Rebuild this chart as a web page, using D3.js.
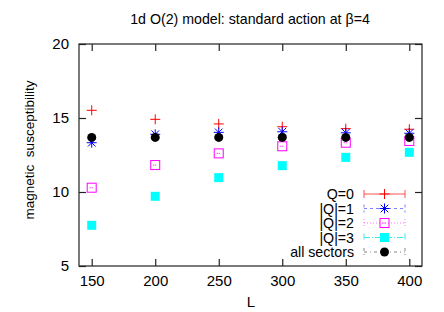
<!DOCTYPE html>
<html><head><meta charset="utf-8">
<script src="https://cdn.jsdelivr.net/npm/d3@7"></script>
<style>body{margin:0;background:#fff}svg{display:block}text{font-family:"Liberation Sans",Arial,sans-serif}</style>
</head><body>
<script>
const Ls = [150, 200, 250, 300, 350, 400];
const q0 = [15.52, 14.91, 14.6, 14.41, 14.28, 14.24];
const q1 = [13.33, 13.9, 14.03, 14.07, 14.0, 13.97];
const q2 = [10.29, 11.82, 12.61, 13.09, 13.33, 13.45];
const q3 = [7.75, 9.71, 10.97, 11.78, 12.34, 12.68];
const qall = [13.69, 13.69, 13.69, 13.69, 13.69, 13.69];
const xTicks = [150, 200, 250, 300, 350, 400];
const yTicks = [5, 10, 15, 20];
const seriesNames = ["Q=0", "|Q|=1", "|Q|=2", "|Q|=3", "all sectors"];

const W = 444, H = 312;
const m = {l: 79, r: 22, t: 44, b: 46};
const svg = d3.select("body").append("svg").attr("width", W).attr("height", H);
const x = d3.scaleLinear().domain([140, 410]).range([m.l, W - m.r]);
const y = d3.scaleLinear().domain([5, 20]).range([H - m.b, m.t]);

const ink = "#222";
svg.append("rect").attr("x", m.l).attr("y", m.t).attr("width", W - m.r - m.l).attr("height", H - m.b - m.t)
  .attr("fill", "none").attr("stroke", ink).attr("stroke-width", 1.2);

const fs = 15;
const xa = svg.append("g").attr("transform", `translate(0,${H - m.b})`)
  .call(d3.axisBottom(x).tickValues(xTicks).tickSizeInner(-7).tickSizeOuter(0).tickPadding(9));
const xt = svg.append("g").attr("transform", `translate(0,${m.t})`)
  .call(d3.axisTop(x).tickValues(xTicks).tickSizeInner(-7).tickSizeOuter(0).tickFormat(""));
const ya = svg.append("g").attr("transform", `translate(${m.l},0)`)
  .call(d3.axisLeft(y).tickValues(yTicks).tickSizeInner(-7).tickSizeOuter(0).tickPadding(10));
const yr = svg.append("g").attr("transform", `translate(${W - m.r},0)`)
  .call(d3.axisRight(y).tickValues(yTicks).tickSizeInner(-7).tickSizeOuter(0).tickFormat(""));
[xa, xt, ya, yr].forEach(g => {
  g.select(".domain").remove();
  g.selectAll("line").attr("stroke", ink).attr("stroke-width", 1.2);
  g.selectAll("text").attr("font-size", fs).attr("fill", "#000").attr("font-family", '"Liberation Sans",Arial,sans-serif');
});

svg.append("text").attr("x", 250).attr("y", 24).attr("text-anchor", "middle").attr("font-size", 14.2).text("1d O(2) model: standard action at β=4");
svg.append("text").attr("x", 251).attr("y", 307).attr("text-anchor", "middle").attr("font-size", 15).text("L");
svg.append("text").attr("transform", `translate(34,150) rotate(-90)`).attr("text-anchor", "middle")
  .attr("font-size", 13.5).attr("xml:space", "preserve").style("white-space", "pre").text("magnetic  susceptibility");

function plus(g, cx, cy, c) {
  g.append("path").attr("d", `M${cx-5},${cy}H${cx+5}M${cx},${cy-5}V${cy+5}`).attr("stroke", c).attr("stroke-width", 1).attr("fill", "none");
}
function star(g, cx, cy, c) {
  g.append("path").attr("d", `M${cx-5},${cy}H${cx+5}M${cx},${cy-5}V${cy+5}M${cx-3.8},${cy-3.8}L${cx+3.8},${cy+3.8}M${cx-3.8},${cy+3.8}L${cx+3.8},${cy-3.8}`)
    .attr("stroke", c).attr("stroke-width", 1).attr("fill", "none");
}
function osq(g, cx, cy, c) {
  g.append("rect").attr("x", cx-4.5).attr("y", cy-4.5).attr("width", 9).attr("height", 9).attr("fill", "none").attr("stroke", c).attr("stroke-width", 1);
  g.append("path").attr("d", `M${cx-2},${cy}H${cx+2}`).attr("stroke", c).attr("stroke-width", 1).attr("stroke-dasharray", "1,1");
}
function fsq(g, cx, cy, c) {
  g.append("rect").attr("x", cx-4.5).attr("y", cy-4.5).attr("width", 9).attr("height", 9).attr("fill", c);
}
function fcirc(g, cx, cy, c) {
  g.append("circle").attr("cx", cx).attr("cy", cy).attr("r", 4.5).attr("fill", c);
}

const series = [
  {v: q0, c: "#ff0000", lc: "#ff5050", m: plus, dash: null},
  {v: q1, c: "#0000ff", lc: "#8080ff", m: star, dash: "3,3"},
  {v: q2, c: "#ff00ff", lc: "#ff70ff", m: osq, dash: "1,2"},
  {v: q3, c: "#00ffff", lc: "#40e8e8", m: fsq, dash: "6,2,1,2"},
  {v: qall, c: "#000000", lc: "#888888", m: fcirc, dash: "3,3,1,3"}
];

const pg = svg.append("g");
series.forEach(s => {
  Ls.forEach((L, i) => s.m(pg, x(L), y(s.v[i]), s.c));
});

const lg = svg.append("g");
const rows = [194, 208.5, 223, 237.5, 252];
series.forEach((s, i) => {
  const ry = rows[i];
  lg.append("text").attr("x", 354).attr("y", ry + 5).attr("text-anchor", "end").attr("font-size", 14.2).text(seriesNames[i]);
  lg.append("path").attr("d", `M364,${ry}H405M364,${ry-4}V${ry+4}M405,${ry-4}V${ry+4}`)
    .attr("stroke", s.lc).attr("stroke-width", 1).attr("fill", "none").attr("stroke-dasharray", s.dash);
  s.m(lg, 384.5, ry, s.c);
});
</script>
</body></html>
